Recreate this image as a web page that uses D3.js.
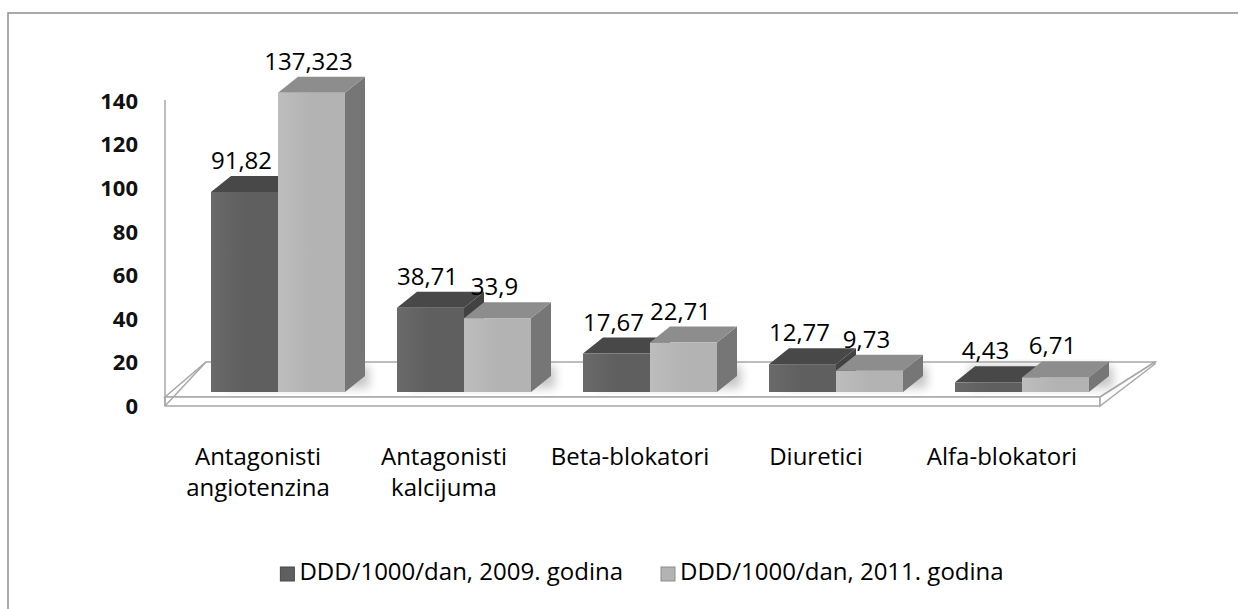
<!DOCTYPE html>
<html>
<head>
<meta charset="utf-8">
<script src="https://cdn.jsdelivr.net/npm/d3@7"></script>
<style>
  body { margin: 0; background: #fff; }
  svg { display: block; font-family: "Open Sans", "Noto Sans", sans-serif; }
</style>
</head>
<body>
<div id="chart"></div>
<script>
const categories = ["Antagonisti angiotenzina", "Antagonisti kalcijuma", "Beta-blokatori", "Diuretici", "Alfa-blokatori"];
const categoryLines = [["Antagonisti", "angiotenzina"], ["Antagonisti", "kalcijuma"], ["Beta-blokatori"], ["Diuretici"], ["Alfa-blokatori"]];
const values2009 = [91.82, 38.71, 17.67, 12.77, 4.43];
const values2011 = [137.323, 33.9, 22.71, 9.73, 6.71];
const seriesNames = ["DDD/1000/dan, 2009. godina", "DDD/1000/dan, 2011. godina"];
const yTicks = [0, 20, 40, 60, 80, 100, 120, 140];

const width = 1238, height = 609;

// face colours per series: front, top, side
const palette = [
    { front: "#5f5f5f", frontHi: "#6a6a6a", top: "#484848", side: "#424242" },
    { front: "#b3b3b3", frontHi: "#bdbdbd", top: "#8d8d8d", side: "#767676" }
];

const svg = d3.select("#chart")
    .append("svg")
    .attr("width", width)
    .attr("height", height);

const defs = svg.append("defs");
palette.forEach((p, i) => {
    const g = defs.append("linearGradient").attr("id", "front" + i).attr("x1", 0).attr("x2", 1).attr("y1", 0).attr("y2", 0);
    g.append("stop").attr("offset", "0%").attr("stop-color", p.frontHi);
    g.append("stop").attr("offset", "50%").attr("stop-color", p.front);
    g.append("stop").attr("offset", "100%").attr("stop-color", p.front);
});
defs.append("filter").attr("id", "soft")
    .attr("x", "-30%").attr("y", "-30%").attr("width", "160%").attr("height", "160%")
    .append("feGaussianBlur").attr("stdDeviation", 5);

// outer chart border (right and bottom edges fall outside the picture)
svg.append("rect")
    .attr("x", 8).attr("y", 13)
    .attr("width", 1300).attr("height", 700)
    .attr("fill", "none")
    .attr("stroke", "#8e8e8e")
    .attr("stroke-width", 1.5);

const xCat = d3.scaleBand().domain(categories).range([165, 1095]).padding(0);
const yScale = d3.scaleLinear().domain([0, 140]).range([397, 92]);

// floor geometry
const slab = 9;
const floorLeft = xCat.range()[0], floorRight = xCat.range()[1] + 5;
const floorDepth = x => [41 + 14 * (x - floorLeft) / (floorRight - floorLeft), -35];
const y0 = yScale(0);

const floor = svg.append("g").attr("class", "floor");
const [ldx, ldy] = floorDepth(floorLeft), [rdx, rdy] = floorDepth(floorRight);
floor.append("path")
    .attr("d", `M${floorLeft},${y0}L${floorRight},${y0}L${floorRight + rdx},${y0 + rdy}L${floorLeft + ldx},${y0 + ldy}Z`)
    .attr("fill", "#fff")
    .attr("stroke", "#a8a8a8")
    .attr("stroke-width", 1.5);
floor.append("path")
    .attr("d", `M${floorLeft},${y0}L${floorRight},${y0}L${floorRight},${y0 + slab}L${floorLeft},${y0 + slab}Z`)
    .attr("fill", "#fff")
    .attr("stroke", "#a8a8a8")
    .attr("stroke-width", 1.5);
floor.append("path")
    .attr("d", `M${floorRight},${y0}L${floorRight + rdx},${y0 + rdy}L${floorRight + rdx},${y0 + rdy + 2}L${floorRight},${y0 + slab}Z`)
    .attr("fill", "#fff")
    .attr("stroke", "#a8a8a8")
    .attr("stroke-width", 1.5);
floor.append("line")
    .attr("x1", floorLeft).attr("y1", y0 + slab)
    .attr("x2", floorLeft + ldx).attr("y2", y0 + ldy)
    .attr("stroke", "#a8a8a8")
    .attr("stroke-width", 1.5);

// vertical axis line
svg.append("line")
    .attr("x1", floorLeft).attr("x2", floorLeft)
    .attr("y1", yScale(140) + 8).attr("y2", y0 + slab)
    .attr("stroke", "#a8a8a8")
    .attr("stroke-width", 1.5);

svg.selectAll(".tickLabel")
    .data(yTicks)
    .enter().append("text")
    .attr("class", "tickLabel")
    .attr("x", 138)
    .attr("y", d => yScale(d) + 9)
    .attr("dy", "0.36em")
    .attr("text-anchor", "end")
    .attr("font-size", "22px")
    .attr("font-weight", "bold")
    .attr("fill", "#111")
    .text(d => d);

// bars
const barInset = 41, barW = 67;
const frontShift = [5, -5];      // bar front face sits a little behind the floor edge
const barDepth = [20, -16];
const series = [values2009, values2011];

const bars = [];
categories.forEach((c, i) => {
    series.forEach((vals, j) => {
        bars.push({ cat: c, j: j, v: vals[i] });
    });
});

// soft floor shadows behind each group
svg.selectAll(".shadow")
    .data(categories)
    .enter().append("rect")
    .attr("class", "shadow")
    .attr("x", c => xCat(c) + barInset + frontShift[0] + 14)
    .attr("y", y0 + frontShift[1] - 26)
    .attr("width", 2 * barW + 10)
    .attr("height", 22)
    .attr("fill", "#9a9a9a")
    .attr("opacity", 0.55)
    .attr("filter", "url(#soft)");

const barG = svg.selectAll(".bar")
    .data(bars)
    .enter().append("g")
    .attr("class", "bar");

const geom = d => {
    const x = xCat(d.cat) + barInset + d.j * barW + frontShift[0];
    const yb = y0 + frontShift[1];
    const yt = yScale(d.v) + frontShift[1];
    return { x, yb, yt };
};

barG.append("path")
    .attr("d", d => {
        const { x, yb, yt } = geom(d);
        const [dx, dy] = barDepth;
        return `M${x + barW},${yt}L${x + barW + dx},${yt + dy}L${x + barW + dx},${yb + dy}L${x + barW},${yb}Z`;
    })
    .attr("fill", d => palette[d.j].side);

barG.append("path")
    .attr("d", d => {
        const { x, yt } = geom(d);
        const [dx, dy] = barDepth;
        return `M${x},${yt}L${x + barW},${yt}L${x + barW + dx},${yt + dy}L${x + dx},${yt + dy}Z`;
    })
    .attr("fill", d => palette[d.j].top);

barG.append("rect")
    .attr("x", d => geom(d).x)
    .attr("y", d => geom(d).yt)
    .attr("width", barW)
    .attr("height", d => geom(d).yb - geom(d).yt)
    .attr("fill", d => `url(#front${d.j})`);

// value labels
svg.selectAll(".valueLabel")
    .data(bars)
    .enter().append("text")
    .attr("class", "valueLabel")
    .attr("x", d => geom(d).x + barW / 2 - 3)
    .attr("y", d => geom(d).yt - 23)
    .attr("text-anchor", "middle")
    .attr("font-size", "24px")
    .attr("fill", "#000")
    .text(d => String(d.v).replace(".", ","));

// category labels
const catLabels = svg.selectAll(".catLabel")
    .data(categories)
    .enter().append("text")
    .attr("class", "catLabel")
    .attr("text-anchor", "middle")
    .attr("font-size", "24px")
    .attr("fill", "#000");

catLabels.selectAll("tspan")
    .data((c, i) => categoryLines[i].map(t => ({ t, c })))
    .enter().append("tspan")
    .attr("x", d => xCat(d.c) + xCat.bandwidth() / 2)
    .attr("y", (d, k) => 465 + k * 31)
    .text(d => d.t);

// legend
const legend = svg.append("g").attr("class", "legend");
const items = legend.selectAll(".item")
    .data(seriesNames)
    .enter().append("g")
    .attr("class", "item");

items.append("rect")
    .attr("width", 14)
    .attr("height", 14)
    .attr("y", 567)
    .attr("fill", (d, i) => palette[i].front)
    .attr("stroke", (d, i) => palette[i].top)
    .attr("stroke-width", 1);

items.append("text")
    .attr("x", 19)
    .attr("y", 580)
    .attr("font-size", "24px")
    .attr("fill", "#000")
    .text(d => d);

const widths = items.nodes().map(n => n.getBBox().width);
const gap = 38;
const total = d3.sum(widths) + gap;
let lx = 642 - total / 2;
items.each(function (d, i) {
    d3.select(this).attr("transform", `translate(${lx},0)`);
    lx += widths[i] + gap;
});
</script>
</body>
</html>
